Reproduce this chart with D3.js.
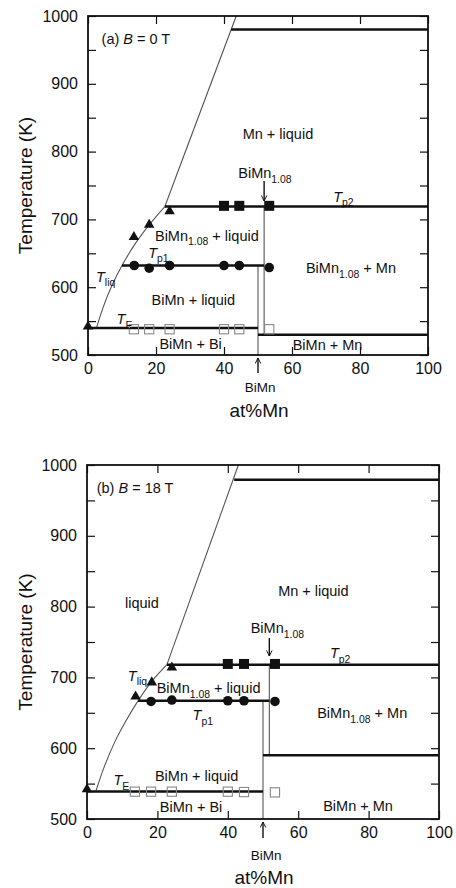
<!DOCTYPE html>
<html><head><meta charset="utf-8">
<script src="https://cdn.jsdelivr.net/npm/d3@7"></script>
<style>
body{margin:0;background:#fff}
svg{display:block}
text{font-family:"Liberation Sans",Arial,Helvetica,sans-serif;fill:#111}
</style>
</head><body>
<svg id="c" width="456" height="888"></svg>
<script>
// ---------- shared tick values ----------
const xTickValues = [0, 20, 40, 60, 80, 100];
const yTickValues = [500, 550, 600, 650, 700, 750, 800, 850, 900, 950, 1000];
const yLabelValues = [500, 600, 700, 800, 900, 1000];

// ---------- panel (a) B = 0 T ----------
const liqLowA = [[2.5, 540], [4.5, 571], [7, 602], [10, 632], [14, 665], [18, 692], [22.6, 719]];
const liqUpA = [[22.6, 719], [43.6, 1000]];
const triA = [[0, 542], [13.5, 674], [18, 692], [24, 712]];
const sqA = [[40, 720], [44.5, 720], [53.3, 720]];
const cirA = [[13.6, 632], [18, 628], [24, 632], [40, 632], [44.5, 632], [53.3, 629]];
const openA = [[13.5, 538], [18, 538], [24, 538], [40, 538], [44.5, 538], [53.3, 538]];
// thick horizontal boundaries [x1, x2, T]
const hLinesA = [[0, 50, 540], [50, 100, 530], [10, 51.8, 632], [22.6, 100, 719], [42.1, 100, 980]];
// thin vertical boundaries [x, T1, T2]
const vLinesA = [[50, 500, 632], [51.8, 530, 719]];

// ---------- panel (b) B = 18 T ----------
const liqLowB = [[2.5, 539], [5, 575], [8, 610], [11, 638], [14, 663], [18, 692], [22.7, 718]];
const liqUpB = [[22.7, 718], [43, 1000]];
const triB = [[0, 542], [13.8, 673], [18.4, 693], [24.1, 714]];
const sqB = [[40, 719], [44.6, 719], [53.4, 719]];
const cirB = [[18.2, 666], [24.1, 668], [40, 667], [44.6, 667], [53.4, 666]];
const openB = [[13.6, 538.6], [18.2, 538.6], [24.1, 538.6], [40, 538.6], [44.6, 538], [53.4, 537.6]];
const hLinesB = [[0, 50, 539], [50, 100, 590], [14.5, 51.8, 667], [22.7, 100, 718], [41.8, 100, 979]];
const vLinesB = [[50, 500, 667], [51.8, 590, 718]];

// ---------- annotations (in data coordinates) ----------
const labelsA = [
  {x: 4.0, y: 959.4, size: 14.5, parts: [{t: "(a) "}, {t: "B", it: 1}, {t: " = 0 T"}]},
  {x: 45.5, y: 819.3, parts: [{t: "Mn + liquid"}]},
  {x: 44.2, y: 760.6, parts: [{t: "BiMn"}, {t: "1.08", sub: 1}]},
  {x: 72.1, y: 726.1, parts: [{t: "T", it: 1}, {t: "p2", sub: 1}]},
  {x: 19.7, y: 668.6, parts: [{t: "BiMn"}, {t: "1.08", sub: 1}, {t: " + liquid"}]},
  {x: 17.7, y: 643.1, parts: [{t: "T", it: 1}, {t: "p1", sub: 1}]},
  {x: 2.35, y: 608, parts: [{t: "T", it: 1}, {t: "liq", sub: 1}]},
  {x: 18.7, y: 573.7, parts: [{t: "BiMn + liquid"}]},
  {x: 64.1, y: 620.9, parts: [{t: "BiMn"}, {t: "1.08", sub: 1}, {t: " + Mn"}]},
  {x: 8.4, y: 545.7, parts: [{t: "T", it: 1}, {t: "E", sub: 1}]},
  {x: 21.0, y: 508.4, parts: [{t: "BiMn + Bi"}]},
  {x: 60.2, y: 507.4, parts: [{t: "BiMn + Mn"}]},
  {x: 50.6, y: 445, anchor: "middle", size: 13.5, parts: [{t: "BiMn"}]}
];
const arrowsA = [[51.8, 756.6, 727.1], [50, 473.5, 495.6]];

const labelsB = [
  {x: 2.76, y: 960, size: 14.5, parts: [{t: "(b) "}, {t: "B", it: 1}, {t: " = 18 T"}]},
  {x: 10.8, y: 797.6, parts: [{t: "liquid"}]},
  {x: 54.3, y: 815.4, parts: [{t: "Mn + liquid"}]},
  {x: 46.5, y: 762.7, parts: [{t: "BiMn"}, {t: "1.08", sub: 1}]},
  {x: 69.0, y: 727, parts: [{t: "T", it: 1}, {t: "p2", sub: 1}]},
  {x: 11.6, y: 695.3, parts: [{t: "T", it: 1}, {t: "liq", sub: 1}]},
  {x: 19.8, y: 677.5, parts: [{t: "BiMn"}, {t: "1.08", sub: 1}, {t: " + liquid"}]},
  {x: 30.0, y: 639.8, parts: [{t: "T", it: 1}, {t: "p1", sub: 1}]},
  {x: 65.4, y: 642.2, parts: [{t: "BiMn"}, {t: "1.08", sub: 1}, {t: " + Mn"}]},
  {x: 19.3, y: 554.1, parts: [{t: "BiMn + liquid"}]},
  {x: 7.5, y: 548, parts: [{t: "T", it: 1}, {t: "E", sub: 1}]},
  {x: 20.7, y: 510.3, parts: [{t: "BiMn + Bi"}]},
  {x: 67.1, y: 511.3, parts: [{t: "BiMn + Mn"}]},
  {x: 50.9, y: 442.1, anchor: "middle", size: 13.5, parts: [{t: "BiMn"}]}
];
const arrowsB = [[51.8, 755.6, 730.2], [50, 473.2, 495.8]];

const svg = d3.select("#c");
svg.append("defs").append("marker")
  .attr("id", "ah").attr("viewBox", "0 0 10 10").attr("refX", 9).attr("refY", 5)
  .attr("markerWidth", 7).attr("markerHeight", 7).attr("orient", "auto")
  .attr("markerUnits", "userSpaceOnUse")
  .append("path").attr("d", "M1,1 L9,5 L1,9").attr("fill", "none").attr("stroke", "#111").attr("stroke-width", 1.4);

function drawPanel(cfg) {
  const x = d3.scaleLinear().domain([0, 100]).range([cfg.left, cfg.right]);
  const y = d3.scaleLinear().domain([500, 1000]).range([cfg.bottom, cfg.top]);
  const g = svg.append("g");

  // axes with inward ticks
  const ax = (gen, tr) => {
    const a = g.append("g").attr("transform", tr).call(gen);
    a.select(".domain").remove();
    a.selectAll(".tick line").attr("stroke", "#111").attr("stroke-width", 1.2);
    a.selectAll("text").style("font-size", "16px").style("font-family", "Liberation Sans, Arial, sans-serif").attr("fill", "#111");
    return a;
  };
  ax(d3.axisBottom(x).tickValues(xTickValues).tickSize(-8).tickPadding(7.5), `translate(0,${cfg.bottom})`);
  ax(d3.axisTop(x).tickValues(xTickValues).tickSize(-8).tickFormat(""), `translate(0,${cfg.top})`);
  ax(d3.axisLeft(y).tickValues(yTickValues).tickSize(-8).tickPadding(10)
      .tickFormat(d => yLabelValues.includes(d) ? d : ""), `translate(${cfg.left},0)`);
  ax(d3.axisRight(y).tickValues(yTickValues).tickSize(-8).tickFormat(""), `translate(${cfg.right},0)`);

  // thin vertical boundaries
  g.selectAll(".vl").data(cfg.vLines).join("line")
    .attr("x1", d => x(d[0])).attr("x2", d => x(d[0]))
    .attr("y1", d => y(d[1])).attr("y2", d => y(d[2]))
    .attr("stroke", "#555").attr("stroke-width", 1.1);

  // liquidus
  g.append("path").attr("d", d3.line().x(d => x(d[0])).y(d => y(d[1])).curve(d3.curveCatmullRom.alpha(0.5))(cfg.liqLow))
    .attr("fill", "none").attr("stroke", "#555").attr("stroke-width", 1.1);
  g.append("path").attr("d", d3.line().x(d => x(d[0])).y(d => y(d[1]))(cfg.liqUp))
    .attr("fill", "none").attr("stroke", "#555").attr("stroke-width", 1.1);

  // thick horizontal boundaries
  g.selectAll(".hl").data(cfg.hLines).join("line")
    .attr("x1", d => x(d[0])).attr("x2", d => x(d[1]))
    .attr("y1", d => y(d[2])).attr("y2", d => y(d[2]))
    .attr("stroke", "#111").attr("stroke-width", 2.5);

  // frame
  g.append("rect").attr("x", cfg.left).attr("y", cfg.top)
    .attr("width", cfg.right - cfg.left).attr("height", cfg.bottom - cfg.top)
    .attr("fill", "none").attr("stroke", "#111").attr("stroke-width", 1.8);

  // markers
  g.selectAll(".op").data(cfg.open).join("rect")
    .attr("x", d => x(d[0]) - 4.6).attr("y", d => y(d[1]) - 4.6)
    .attr("width", 9.2).attr("height", 9.2)
    .attr("fill", "none").attr("stroke", "#888").attr("stroke-width", 1.1);
  g.selectAll(".ci").data(cfg.cir).join("circle")
    .attr("cx", d => x(d[0])).attr("cy", d => y(d[1])).attr("r", 4.8).attr("fill", "#111");
  g.selectAll(".sq").data(cfg.sq).join("rect")
    .attr("x", d => x(d[0]) - 5).attr("y", d => y(d[1]) - 5)
    .attr("width", 10).attr("height", 10).attr("fill", "#111");
  const tri = d3.symbol().type(d3.symbolTriangle).size(48);
  g.selectAll(".tr").data(cfg.tri).join("path")
    .attr("d", tri).attr("transform", d => `translate(${x(d[0])},${y(d[1])})`).attr("fill", "#111");

  // arrows
  g.selectAll(".ar").data(cfg.arrows).join("line")
    .attr("x1", d => x(d[0])).attr("x2", d => x(d[0]))
    .attr("y1", d => y(d[1])).attr("y2", d => y(d[2]))
    .attr("stroke", "#111").attr("stroke-width", 1.4).attr("marker-end", "url(#ah)");

  // labels
  cfg.labels.forEach(L => {
    const fs = L.size || 14.5;
    const t = g.append("text").attr("x", x(L.x)).attr("y", y(L.y))
      .attr("text-anchor", L.anchor || "start").style("font-size", fs + "px");
    let shifted = 0;
    L.parts.forEach(p => {
      const ts = t.append("tspan").text(p.t).attr("fill", "#111");
      if (p.sub) {
        ts.attr("dy", 4.5).style("font-size", (fs * 0.72) + "px");
        shifted = 4.5;
      } else {
        if (shifted) { ts.attr("dy", -shifted); shifted = 0; }
        ts.style("font-size", fs + "px");
      }
      if (p.it) ts.style("font-style", "italic");
    });
  });

  // axis titles
  g.append("text").attr("x", (cfg.left + cfg.right) / 2 + 1).attr("y", cfg.bottom + cfg.xTitleOff)
    .attr("text-anchor", "middle").style("font-size", "19px").text("at%Mn");
  g.append("text").attr("transform", `translate(32,${(cfg.top + cfg.bottom) / 2}) rotate(-90)`)
    .attr("text-anchor", "middle").style("font-size", "19px").text("Temperature (K)");
}

drawPanel({left: 88, right: 428, top: 16, bottom: 355, xTitleOff: 62,
  liqLow: liqLowA, liqUp: liqUpA, tri: triA, sq: sqA, cir: cirA, open: openA,
  hLines: hLinesA, vLines: vLinesA, labels: labelsA, arrows: arrowsA});
drawPanel({left: 87, right: 439, top: 465, bottom: 819, xTitleOff: 65,
  liqLow: liqLowB, liqUp: liqUpB, tri: triB, sq: sqB, cir: cirB, open: openB,
  hLines: hLinesB, vLines: vLinesB, labels: labelsB, arrows: arrowsB});
</script>
</body></html>
